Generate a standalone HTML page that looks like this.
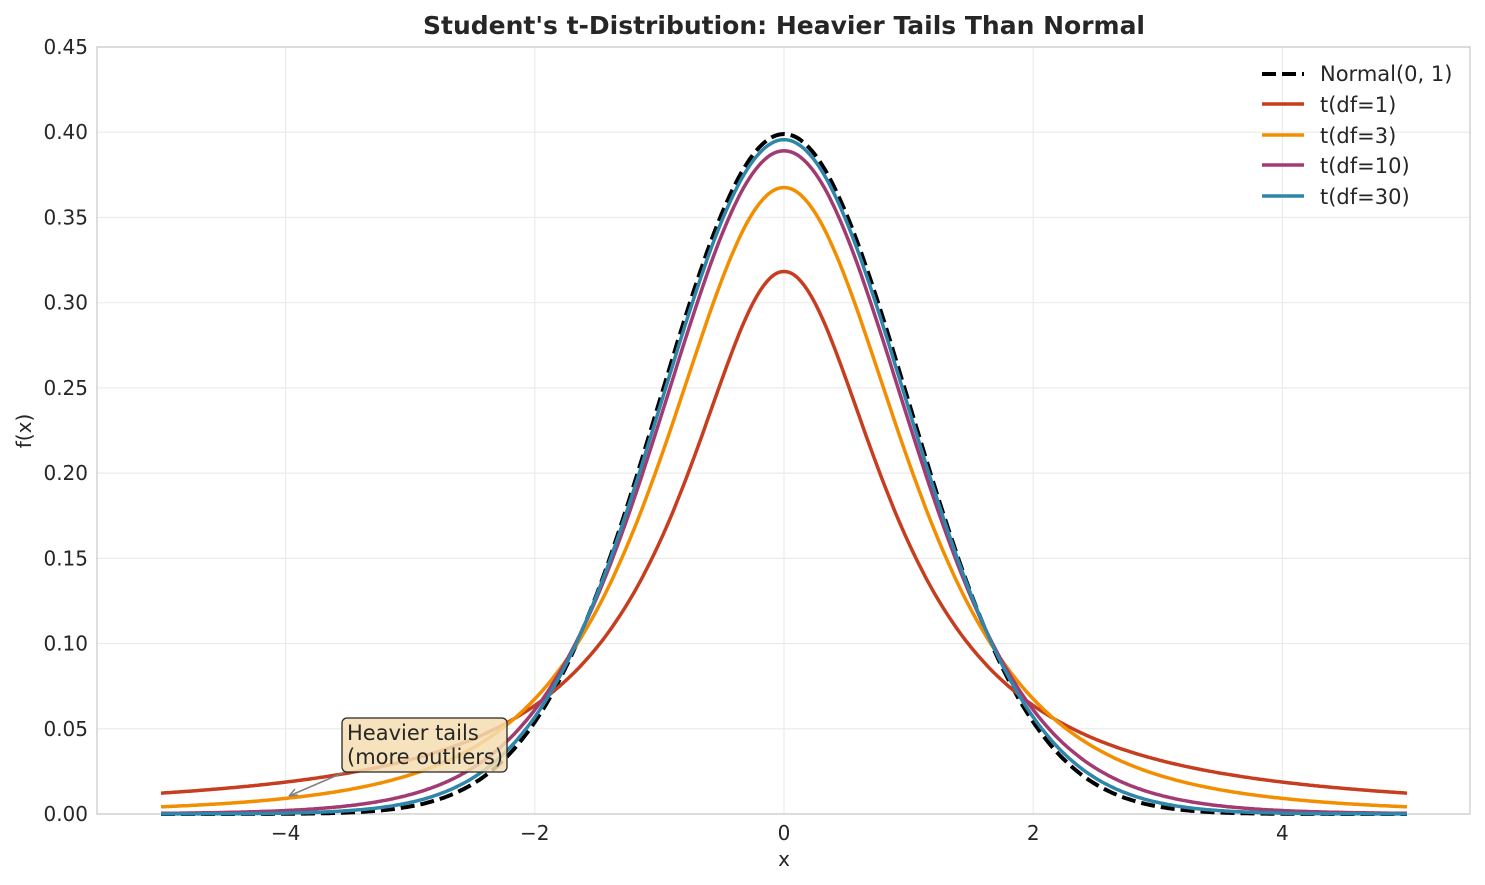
<!DOCTYPE html>
<html><head><meta charset="utf-8">
<style>
html,body{margin:0;padding:0;background:#fff;}
svg{display:block;font-family:"DejaVu Sans","Liberation Sans",sans-serif;}
</style></head>
<body>
<svg id="s" width="1485" height="885" xmlns="http://www.w3.org/2000/svg">
<rect width="1485" height="885" fill="#fff"/>
<g id="grid" stroke="#ebebeb" stroke-width="1.2"></g>
<rect x="97" y="47" width="1373" height="767" fill="none" stroke="#cccccc" stroke-width="1.3"/>
<g id="curves" fill="none" stroke-linejoin="round" stroke-linecap="butt"></g>
<g id="labels" fill="#262626" font-size="20"></g>
<text x="784" y="34" text-anchor="middle" font-size="25" font-weight="bold" fill="#262626">Student's t-Distribution: Heavier Tails Than Normal</text>
<text x="784" y="866" text-anchor="middle" font-size="20" fill="#262626">x</text>
<text transform="translate(31,431) rotate(-90)" text-anchor="middle" font-size="20" fill="#262626">f(x)</text>
<line x1="347" y1="771" x2="289" y2="796" stroke="#808080" stroke-width="1.5"/>
<path d="M289,796 l9,-1 M289,796 l6,-7" stroke="#808080" stroke-width="1.5" fill="none"/>
<rect x="342" y="718" width="165" height="54" rx="5" fill="#f5deb3" fill-opacity="0.85" stroke="#262626" stroke-width="1.3"/>
<text x="347" y="740" font-size="21" fill="#262626">Heavier tails</text>
<text x="347" y="764" font-size="21" fill="#262626">(more outliers)</text>
<g font-size="21" fill="#262626">
<line x1="1262" y1="74" x2="1304" y2="74" stroke="#000" stroke-width="4" stroke-dasharray="14,6"/>
<text x="1320" y="81">Normal(0, 1)</text>
<line x1="1262" y1="104" x2="1304" y2="104" stroke="#c63d1f" stroke-width="3.5"/>
<text x="1320" y="112">t(df=1)</text>
<line x1="1262" y1="135" x2="1304" y2="135" stroke="#f28e00" stroke-width="3.5"/>
<text x="1320" y="143">t(df=3)</text>
<line x1="1262" y1="165" x2="1304" y2="165" stroke="#a23b72" stroke-width="3.5"/>
<text x="1320" y="173">t(df=10)</text>
<line x1="1262" y1="196" x2="1304" y2="196" stroke="#2e86ab" stroke-width="3.5"/>
<text x="1320" y="204">t(df=30)</text>
</g>
</svg>
<script>
var NS="http://www.w3.org/2000/svg";
function X(x){return 784+x*124.6;}
function Y(y){return 814-y*1704.4;}
function el(p,t,a,txt){var e=document.createElementNS(NS,t);for(var k in a)e.setAttribute(k,a[k]);if(txt!=null)e.textContent=txt;document.getElementById(p).appendChild(e);}
for(var i=-4;i<=4;i+=2){el("grid","line",{x1:X(i),x2:X(i),y1:47,y2:814});
 el("labels","text",{x:X(i),y:840,"text-anchor":"middle"},(i<0?"\u2212":"")+Math.abs(i));}
for(var j=0;j<=9;j++){var v=j*0.05;el("grid","line",{x1:97,x2:1470,y1:Y(v),y2:Y(v)});
 el("labels","text",{x:88,y:Y(v)+7,"text-anchor":"end"},v.toFixed(2));}
function path(f){var d="";for(var k=0;k<=500;k++){var x=-5+10*k/500;d+=(k?"L":"M")+X(x).toFixed(1)+","+Y(f(x)).toFixed(1);}return d;}
function t(v,c){return function(x){return c*Math.pow(1+x*x/v,-(v+1)/2);};}
el("curves","path",{d:path(function(x){return Math.exp(-x*x/2)/Math.sqrt(2*Math.PI);}),stroke:"#000","stroke-width":4,"stroke-dasharray":"14,6"});
el("curves","path",{d:path(t(1,0.318310)),stroke:"#c63d1f","stroke-width":3.5});
el("curves","path",{d:path(t(3,0.367553)),stroke:"#f28e00","stroke-width":3.5});
el("curves","path",{d:path(t(10,0.389108)),stroke:"#a23b72","stroke-width":3.5});
el("curves","path",{d:path(t(30,0.395632)),stroke:"#2e86ab","stroke-width":3.5});
</script>
</body></html>
